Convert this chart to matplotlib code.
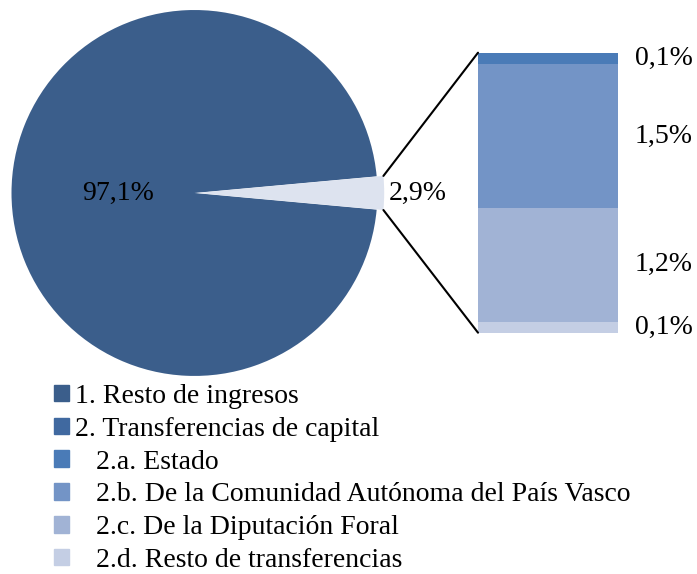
import matplotlib.pyplot as plt
from matplotlib.patches import Patch, ConnectionPatch
import numpy as np

plt.rcParams['font.family'] = ['Liberation Serif', 'DejaVu Serif']

# datos
pie_labels = ['1. Resto de ingresos', '2. Transferencias de capital']
pie_vals = [97.1, 2.9]
sub_labels = ['2.a. Estado', '2.b. De la Comunidad Autónoma del País Vasco',
              '2.c. De la Diputación Foral', '2.d. Resto de transferencias']
sub_vals = [0.12, 1.48, 1.18, 0.11]

pie_colors = ['#3b5e8b', '#dde3ef']
legend_colors = ['#3b5e8b', '#4069a0', '#4a7bb7', '#7394c6', '#a1b3d5', '#c4cee4']
sub_colors = legend_colors[2:]


def fmt(v):
    return f'{v:.1f}%'.replace('.', ',')


fig = plt.figure(figsize=(6.97, 5.74), dpi=100)

# tarta principal
ax = fig.add_axes([0.0165, 0.345, 0.525, 0.6376])
half = pie_vals[1] / sum(pie_vals) * 360 / 2
wedges, _ = ax.pie(pie_vals, colors=pie_colors, startangle=half,
                   explode=[0, 0.012], wedgeprops=dict(linewidth=0))
wedges[1].set_radius(1.025)
ax.set_xlim(-1, 1)
ax.set_ylim(-1, 1)
ax.axis('off')

label_dist = [0.42, 1.22]
for w, v, d in zip(wedges, pie_vals, label_dist):
    t = np.deg2rad((w.theta1 + w.theta2) / 2)
    ax.text(d * np.cos(t), d * np.sin(t), fmt(v), ha='center', va='center', fontsize=20)

# barra de desglose
bx = fig.add_axes([0.6858, 0.4204, 0.2009, 0.4878])
bottom = 0
for v, c in zip(sub_vals[::-1], sub_colors[::-1]):
    bx.bar(0, v, bottom=bottom, width=1, color=c, linewidth=0)
    bx.text(0.62, bottom + v / 2, fmt(v), ha='left', va='center', fontsize=20)
    bottom += v
bx.set_xlim(-0.5, 0.5)
bx.set_ylim(0, sum(sub_vals))
bx.axis('off')

# lineas de union
w = wedges[1]
cx, cy = w.center
for th, yb in [(w.theta2, sum(sub_vals)), (w.theta1, 0)]:
    t = np.deg2rad(th)
    p = (cx + w.r * np.cos(t), cy + w.r * np.sin(t))
    con = ConnectionPatch(xyA=p, xyB=(-0.5, yb), coordsA=ax.transData,
                          coordsB=bx.transData, color='black', linewidth=1.5)
    fig.add_artist(con)

# leyenda
handles = [Patch(color=c) for c in legend_colors]
labels = pie_labels + ['   ' + s for s in sub_labels]
fig.legend(handles, labels, loc='upper left', bbox_to_anchor=(54 / 697, 1 - 384 / 574),
           frameon=False, fontsize=20, handlelength=0.54, handleheight=0.54,
           handletextpad=0.22, labelspacing=0.28, borderpad=0, borderaxespad=0)

fig.savefig('out.png', dpi=100)
